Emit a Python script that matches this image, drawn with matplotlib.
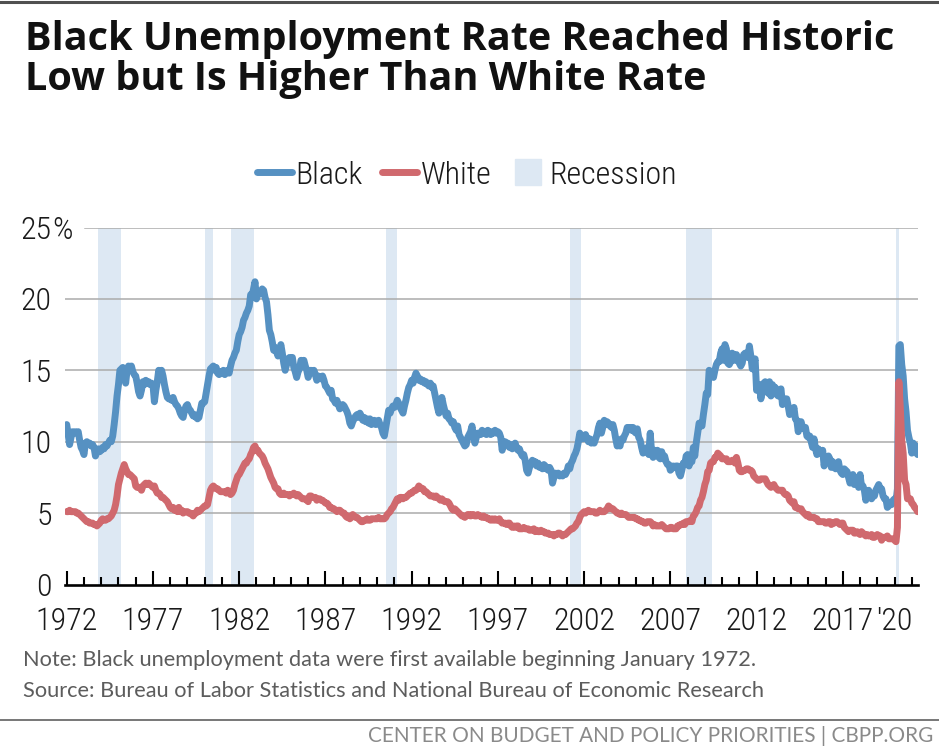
import numpy as np
import matplotlib.pyplot as plt
import matplotlib.font_manager as fm
from matplotlib.lines import Line2D

# Monthly unemployment rates (%), January 1972 - May 2021
black_rate = [
    11.2, 10.5, 9.8, 10.3, 10.7, 10.6, 10.7, 10.6, 10.7, 10.1, 9.6, 9.4,   # 1972
    9.1, 9.9, 10.0, 9.8, 9.9, 9.7, 9.8, 9.6, 9.0, 9.3, 9.5, 9.3,           # 1973
    9.4, 9.6, 9.5, 9.8, 9.7, 9.9, 10.1, 10.0, 10.4, 11.2, 12.1, 13.2,      # 1974
    14.0, 15.0, 15.1, 15.2, 14.9, 14.1, 15.0, 15.3, 15.2, 15.3, 14.9, 14.7,  # 1975
    14.6, 14.1, 13.5, 13.2, 13.6, 14.2, 14.0, 14.3, 14.1, 14.2, 14.0, 14.1,  # 1976
    14.0, 12.8, 13.6, 14.2, 15.0, 14.8, 15.0, 14.6, 14.0, 13.5, 13.1, 13.0,  # 1977
    13.0, 12.9, 13.1, 12.8, 12.6, 12.5, 12.3, 12.0, 11.8, 11.7, 12.2, 12.5,  # 1978
    12.6, 12.3, 12.2, 12.0, 11.8, 11.9, 11.7, 11.6, 11.7, 12.2, 12.7, 12.7,  # 1979
    12.8, 13.4, 14.0, 14.6, 15.1, 15.2, 15.3, 15.0, 15.2, 14.8, 14.7, 14.9,  # 1980
    14.8, 15.0, 14.7, 14.9, 15.0, 14.8, 15.3, 15.7, 15.9, 16.2, 16.4, 17.0,  # 1981
    17.5, 17.7, 18.0, 18.5, 18.7, 19.0, 19.2, 19.5, 20.3, 20.2, 20.7, 21.2,  # 1982
    20.0, 20.3, 20.5, 20.4, 20.7, 20.6, 20.1, 19.8, 18.9, 17.8, 17.5, 17.0,  # 1983
    16.4, 16.6, 16.3, 16.0, 16.4, 16.8, 16.2, 15.5, 15.0, 15.4, 15.8, 15.9,  # 1984
    15.6, 15.9, 15.2, 14.9, 14.5, 14.9, 15.1, 15.7, 15.5, 15.7, 15.3, 15.0,  # 1985
    14.5, 14.8, 15.0, 14.9, 15.0, 14.7, 14.3, 14.6, 14.5, 14.4, 14.6, 14.3,  # 1986
    13.9, 13.8, 13.6, 13.4, 13.6, 13.0, 12.9, 12.7, 12.9, 12.6, 12.3, 12.4,  # 1987
    12.6, 12.5, 12.3, 12.1, 11.8, 11.3, 11.1, 11.4, 11.6, 11.8, 11.9, 11.7,  # 1988
    12.0, 11.8, 11.5, 11.7, 11.4, 11.6, 11.3, 11.6, 11.2, 11.4, 11.5, 11.2,  # 1989
    11.3, 11.5, 11.2, 11.0, 10.6, 10.4, 11.0, 11.6, 12.2, 12.0, 12.3, 12.5,  # 1990
    12.4, 12.6, 12.9, 12.7, 12.4, 12.2, 12.0, 12.5, 12.9, 13.4, 13.8, 14.0,  # 1991
    14.3, 14.1, 14.5, 14.8, 14.6, 14.3, 14.4, 14.2, 14.3, 14.1, 14.2, 14.0,  # 1992
    13.9, 14.1, 13.8, 13.9, 13.4, 12.9, 12.4, 12.0, 12.5, 13.1, 12.6, 12.2,  # 1993
    11.8, 12.0, 11.6, 11.5, 11.3, 11.4, 11.0, 10.8, 11.1, 10.5, 10.3, 10.1,  # 1994
    9.9, 9.7, 9.8, 10.3, 10.5, 10.7, 11.1, 10.4, 9.9, 10.3, 10.6, 10.5,      # 1995
    10.5, 10.8, 10.6, 10.7, 10.5, 10.8, 10.6, 10.5, 10.7, 10.6, 10.8, 10.6,  # 1996
    10.7, 10.6, 10.3, 9.4, 9.9, 10.0, 9.8, 9.9, 9.6, 9.8, 9.5, 9.7,          # 1997
    9.9, 9.6, 9.4, 9.5, 9.2, 9.0, 9.1, 8.7, 8.0, 7.8, 8.2, 8.4,              # 1998
    8.7, 8.5, 8.6, 8.3, 8.5, 8.2, 8.3, 8.1, 8.4, 8.3, 8.1, 8.0,              # 1999
    8.2, 8.0, 7.1, 7.5, 7.8, 7.7, 7.8, 7.6, 7.7, 7.6, 7.8, 7.7,              # 2000
    7.9, 8.3, 8.1, 8.5, 8.7, 9.0, 9.2, 9.5, 10.0, 10.6, 10.4, 10.2,          # 2001
    10.3, 10.5, 10.2, 10.0, 10.2, 9.9, 10.1, 9.9, 10.2, 10.5, 11.0, 11.3,    # 2002
    10.6, 11.0, 11.5, 11.2, 11.4, 11.3, 11.1, 11.0, 11.2, 10.8, 10.2, 9.7,   # 2003
    9.8, 9.7, 10.2, 10.1, 10.4, 10.6, 11.0, 10.9, 11.0, 10.8, 11.0, 10.7,    # 2004
    10.6, 10.9, 10.3, 10.1, 9.6, 9.2, 9.5, 9.4, 9.6, 9.1, 10.6, 9.2,         # 2005
    8.9, 9.4, 9.3, 9.4, 8.9, 8.8, 9.3, 8.8, 9.0, 8.6, 8.4, 8.4,              # 2006
    8.0, 8.1, 8.3, 8.2, 8.3, 8.3, 7.8, 7.6, 8.0, 8.5, 8.4, 9.0,              # 2007
    9.1, 8.3, 8.9, 8.6, 9.6, 9.0, 9.9, 10.6, 11.3, 11.1, 11.1, 11.9,         # 2008
    12.6, 13.4, 13.3, 15.0, 14.9, 14.7, 14.5, 15.0, 15.4, 15.6, 15.6, 16.2,  # 2009
    16.5, 15.7, 16.8, 16.5, 15.5, 15.4, 15.6, 16.2, 16.1, 15.7, 16.1, 15.8,  # 2010
    15.5, 15.3, 15.5, 16.1, 16.2, 16.2, 15.9, 16.7, 16.0, 15.1, 15.5, 15.8,  # 2011
    13.6, 14.0, 14.0, 13.0, 13.6, 14.1, 14.2, 14.0, 13.4, 14.2, 13.2, 14.0,  # 2012
    13.8, 13.8, 13.3, 13.2, 13.5, 13.7, 12.6, 13.0, 13.0, 13.0, 12.5, 11.9,  # 2013
    12.1, 12.0, 12.4, 11.6, 11.5, 10.7, 11.4, 11.4, 11.0, 10.9, 11.0, 10.4,  # 2014
    10.3, 10.4, 10.0, 9.6, 10.2, 9.5, 9.1, 9.5, 9.2, 9.2, 9.4, 8.3,          # 2015
    8.8, 8.8, 9.0, 8.8, 8.2, 8.6, 8.4, 8.1, 8.3, 8.6, 8.0, 7.8,              # 2016
    7.7, 8.1, 8.0, 7.9, 7.5, 7.1, 7.4, 7.7, 7.0, 7.5, 7.3, 6.8,              # 2017
    7.7, 6.9, 6.9, 6.6, 5.9, 6.5, 6.6, 6.3, 6.0, 6.2, 6.2, 6.6,              # 2018
    6.8, 7.0, 6.7, 6.7, 6.2, 6.0, 6.0, 5.4, 5.5, 5.7, 5.6, 5.9,              # 2019
    6.0, 5.8, 6.7, 16.7, 16.8, 15.4, 14.6, 13.0, 12.1, 10.8, 10.3, 9.9,      # 2020
    9.2, 9.9, 9.6, 9.7, 9.1,                                                 # 2021
]

white_rate = [
    5.1, 5.1, 5.2, 5.1, 5.1, 5.1, 5.1, 5.0, 5.0, 4.9, 4.8, 4.7,   # 1972
    4.6, 4.5, 4.4, 4.4, 4.3, 4.3, 4.3, 4.2, 4.2, 4.1, 4.2, 4.3,   # 1973
    4.5, 4.6, 4.5, 4.5, 4.6, 4.6, 4.7, 4.8, 5.0, 5.2, 5.6, 6.2,   # 1974
    7.0, 7.4, 7.8, 8.1, 8.4, 8.1, 7.9, 7.7, 7.7, 7.6, 7.5, 7.4,   # 1975
    6.9, 6.8, 6.8, 6.8, 6.6, 6.9, 7.0, 7.1, 7.0, 7.1, 7.0, 6.9,   # 1976
    6.8, 6.9, 6.6, 6.4, 6.4, 6.3, 6.1, 6.1, 6.0, 5.9, 5.8, 5.6,   # 1977
    5.4, 5.3, 5.4, 5.2, 5.2, 5.1, 5.4, 5.1, 5.2, 5.0, 5.1, 5.1,   # 1978
    5.1, 5.0, 5.0, 4.9, 4.8, 5.0, 5.0, 5.2, 5.1, 5.2, 5.3, 5.4,   # 1979
    5.5, 5.5, 5.6, 6.1, 6.6, 6.8, 6.9, 6.8, 6.7, 6.7, 6.6, 6.5,   # 1980
    6.5, 6.5, 6.5, 6.4, 6.6, 6.5, 6.3, 6.4, 6.6, 7.0, 7.3, 7.6,   # 1981
    7.7, 7.9, 8.1, 8.3, 8.5, 8.5, 8.7, 8.8, 9.1, 9.3, 9.6, 9.7,   # 1982
    9.4, 9.4, 9.2, 9.1, 9.0, 8.8, 8.5, 8.3, 8.1, 7.8, 7.5, 7.3,   # 1983
    7.1, 6.8, 6.7, 6.7, 6.4, 6.3, 6.3, 6.4, 6.3, 6.3, 6.3, 6.2,   # 1984
    6.3, 6.3, 6.4, 6.3, 6.2, 6.3, 6.2, 6.1, 6.0, 6.0, 6.0, 5.9,   # 1985
    5.8, 6.2, 6.2, 6.1, 6.1, 6.1, 5.9, 6.0, 6.0, 5.9, 5.9, 5.8,   # 1986
    5.7, 5.7, 5.6, 5.4, 5.4, 5.3, 5.3, 5.2, 5.1, 5.2, 5.2, 5.1,   # 1987
    5.0, 5.0, 4.8, 4.7, 4.8, 4.6, 4.7, 4.9, 4.8, 4.7, 4.7, 4.6,   # 1988
    4.5, 4.4, 4.4, 4.5, 4.5, 4.6, 4.5, 4.5, 4.6, 4.6, 4.6, 4.6,   # 1989
    4.6, 4.7, 4.6, 4.6, 4.6, 4.6, 4.7, 4.9, 5.0, 5.1, 5.3, 5.4,   # 1990
    5.6, 5.8, 6.0, 5.9, 6.1, 6.1, 6.0, 6.1, 6.1, 6.2, 6.3, 6.4,   # 1991
    6.4, 6.5, 6.6, 6.6, 6.7, 6.9, 6.8, 6.7, 6.7, 6.5, 6.5, 6.4,   # 1992
    6.3, 6.2, 6.2, 6.2, 6.1, 6.2, 6.1, 6.0, 5.9, 6.0, 5.9, 5.8,   # 1993
    5.8, 5.8, 5.7, 5.5, 5.3, 5.2, 5.3, 5.2, 5.1, 5.0, 4.9, 4.8,   # 1994
    4.8, 4.7, 4.8, 4.9, 4.9, 4.8, 4.9, 4.9, 4.8, 4.8, 4.9, 4.8,   # 1995
    4.8, 4.7, 4.8, 4.7, 4.7, 4.6, 4.6, 4.5, 4.6, 4.5, 4.6, 4.5,   # 1996
    4.5, 4.6, 4.4, 4.3, 4.3, 4.3, 4.2, 4.3, 4.3, 4.1, 4.0, 4.1,   # 1997
    4.0, 4.1, 4.1, 3.9, 3.9, 3.9, 4.0, 3.9, 3.9, 3.9, 3.8, 3.8,   # 1998
    3.8, 3.9, 3.7, 3.8, 3.7, 3.7, 3.8, 3.7, 3.7, 3.6, 3.6, 3.6,   # 1999
    3.5, 3.5, 3.5, 3.4, 3.5, 3.5, 3.6, 3.6, 3.5, 3.4, 3.5, 3.5,   # 2000
    3.6, 3.7, 3.8, 3.9, 3.9, 4.0, 4.1, 4.3, 4.4, 4.7, 4.9, 5.0,   # 2001
    5.1, 5.0, 5.1, 5.2, 5.1, 5.1, 5.1, 5.1, 5.0, 5.0, 5.1, 5.2,   # 2002
    5.1, 5.1, 5.1, 5.2, 5.3, 5.5, 5.4, 5.3, 5.3, 5.2, 5.1, 5.0,   # 2003
    5.0, 4.9, 5.0, 4.9, 4.9, 4.9, 4.8, 4.7, 4.7, 4.7, 4.7, 4.7,   # 2004
    4.6, 4.6, 4.5, 4.5, 4.4, 4.4, 4.3, 4.3, 4.4, 4.4, 4.4, 4.3,   # 2005
    4.1, 4.2, 4.1, 4.1, 4.1, 4.1, 4.2, 4.1, 4.0, 3.9, 3.9, 3.9,   # 2006
    4.0, 4.0, 3.9, 3.9, 3.9, 4.1, 4.1, 4.2, 4.2, 4.3, 4.2, 4.4,   # 2007
    4.4, 4.4, 4.5, 4.4, 4.8, 4.9, 5.1, 5.4, 5.5, 5.9, 6.1, 6.5,   # 2008
    7.0, 7.3, 7.9, 8.0, 8.5, 8.6, 8.6, 8.9, 8.9, 9.2, 9.1, 9.0,   # 2009
    8.8, 8.8, 8.8, 8.8, 8.6, 8.6, 8.6, 8.7, 8.7, 8.5, 8.9, 8.5,   # 2010
    8.0, 7.9, 7.9, 8.0, 8.0, 8.1, 8.1, 8.0, 8.0, 7.9, 7.6, 7.5,   # 2011
    7.4, 7.3, 7.3, 7.4, 7.4, 7.4, 7.4, 7.2, 7.0, 6.9, 6.8, 6.9,   # 2012
    7.0, 6.8, 6.7, 6.6, 6.6, 6.6, 6.6, 6.4, 6.3, 6.3, 6.2, 5.9,   # 2013
    5.8, 5.7, 5.8, 5.4, 5.4, 5.3, 5.3, 5.3, 5.1, 5.0, 4.9, 4.8,   # 2014
    4.9, 4.7, 4.7, 4.7, 4.7, 4.6, 4.6, 4.4, 4.4, 4.4, 4.4, 4.4,   # 2015
    4.3, 4.3, 4.4, 4.4, 4.2, 4.3, 4.3, 4.4, 4.4, 4.3, 4.2, 4.3,   # 2016
    4.3, 4.0, 3.9, 3.8, 3.7, 3.8, 3.8, 3.8, 3.6, 3.6, 3.7, 3.6,   # 2017
    3.5, 3.7, 3.6, 3.5, 3.4, 3.5, 3.4, 3.4, 3.5, 3.3, 3.3, 3.4,   # 2018
    3.5, 3.4, 3.4, 3.1, 3.3, 3.3, 3.3, 3.4, 3.2, 3.2, 3.2, 3.2,   # 2019
    3.1, 3.0, 4.0, 14.2, 12.4, 10.1, 9.2, 7.3, 7.0, 6.0, 6.0, 6.0,  # 2020
    5.7, 5.6, 5.4, 5.3, 5.1,                                        # 2021
]

# NBER recessions: (start year, month), (end year, month)
recessions = [((1973, 11), (1975, 3)), ((1980, 1), (1980, 7)), ((1981, 7), (1982, 11)),
              ((1990, 7), (1991, 3)), ((2001, 3), (2001, 11)), ((2007, 12), (2009, 6)),
              ((2020, 2), (2020, 4))]

label_years = [1972, 1977, 1982, 1987, 1992, 1997, 2002, 2007, 2012, 2017, 2020]
label_text = ['1972', '1977', '1982', '1987', '1992', '1997', '2002', '2007', '2012', '2017', "'20"]
y_ticks = [0, 5, 10, 15, 20, 25]

BLUE = '#5691c2'
RED = '#d0696e'
BAND = '#dde8f3'

# pick a narrow font for the axis labels if one is installed
installed = {f.name for f in fm.fontManager.ttflist}
narrow = next((n for n in ['Roboto Condensed', 'Liberation Sans Narrow', 'Open Sans Condensed']
               if n in installed), None)
if narrow:
    tick_font, tick_size = narrow, 23
else:
    tick_font, tick_size = 'Roboto', 19
tick_prop = dict(family=tick_font, size=tick_size, weight='light')

months = np.arange(len(black_rate))
x = 1972 + months / 12

fig = plt.figure(figsize=(9.39, 7.5), dpi=100)
ax = fig.add_axes([65 / 939, 1 - 584.5 / 750, 853 / 939, 357 / 750])

for (y0, m0), (y1, m1) in recessions:
    ax.axvspan(y0 + (m0 - 1) / 12, y1 + (m1 - 1) / 12, color=BAND, lw=0, zorder=0)

for v in y_ticks[1:-1]:
    ax.axhline(v, color='#ababab', lw=1.1, zorder=1)
ax.axhline(25, xmin=20 / 853, color='#ababab', lw=1.1, zorder=1)

ax.plot(x, black_rate, color=BLUE, lw=5, solid_capstyle='round', solid_joinstyle='round', zorder=3)
ax.plot(x, white_rate[:len(x)], color=RED, lw=5, solid_capstyle='round', solid_joinstyle='round', zorder=4)

ax.set_xlim(1971.9, 2021.36)
ax.set_ylim(0, 25)

for side in ['top', 'right', 'left']:
    ax.spines[side].set_visible(False)
ax.spines['bottom'].set_linewidth(1.9)
ax.spines['bottom'].set_color('black')
ax.spines['bottom'].set_zorder(5)

ax.set_xticks(label_years, label_text)
ax.set_xticks(range(1972, 2022), minor=True)
ax.tick_params(axis='x', which='major', direction='in', length=10, width=1.5, pad=16.5,
               labelcolor='#1a1a1a')
ax.tick_params(axis='x', which='minor', direction='in', length=5.5, width=1.5)
last = ax.xaxis.get_major_ticks()[-1]
last.tick1line.set_markersize(5.5)
for lab in ax.get_xticklabels():
    lab.set_fontproperties(fm.FontProperties(**tick_prop))

ax.set_yticks(y_ticks, [str(v) for v in y_ticks])
ax.tick_params(axis='y', length=0, pad=9.5, labelcolor='#1a1a1a')
for lab in ax.get_yticklabels():
    lab.set_fontproperties(fm.FontProperties(**tick_prop))
ax.text(-13 / 853, 25, '%', transform=ax.get_yaxis_transform(), ha='left', va='center_baseline',
        color='#1a1a1a', fontproperties=fm.FontProperties(**tick_prop))

# legend
handles = [Line2D([], [], color=BLUE, lw=5, solid_capstyle='round'),
           Line2D([], [], color=RED, lw=5, solid_capstyle='round'),
           Line2D([], [], color=BAND, marker='s', ms=19, ls='none')]
fig.legend(handles, ['Black', 'White', 'Recession'], loc='center', ncol=3,
           bbox_to_anchor=(467 / 939, 1 - 175 / 750), frameon=False, prop=tick_prop,
           handlelength=1.1, handletextpad=0.12, columnspacing=0.6, labelcolor='#1a1a1a')


def fit_width(txt, width_px):
    w = txt.get_window_extent(fig.canvas.get_renderer()).width
    txt.set_fontsize(txt.get_fontsize() * width_px / w)


# title
t1 = fig.text(25 / 939, 1 - 50 / 750, 'Black Unemployment Rate Reached Historic', family='Open Sans',
              fontweight='bold', fontsize=22, color='#111111', va='baseline')
fit_width(t1, 868)
fig.text(25 / 939, 1 - 90 / 750, 'Low but Is Higher Than White Rate', family='Open Sans',
         fontweight='bold', fontsize=t1.get_fontsize(), color='#111111', va='baseline')

# notes
src = fig.text(23 / 939, 1 - 697 / 750,
               'Source: Bureau of Labor Statistics and National Bureau of Economic Research',
               family='Lato', fontsize=13, color='#5c5c5c', va='baseline')
fit_width(src, 740)
fig.text(23 / 939, 1 - 666 / 750,
         'Note: Black unemployment data were first available beginning January 1972.',
         family='Lato', fontsize=src.get_fontsize(), color='#5c5c5c', va='baseline')

foot = fig.text(933 / 939, 1 - 741.5 / 750, 'CENTER ON BUDGET AND POLICY PRIORITIES | CBPP.ORG',
                family='Lato', fontsize=13, color='#8a8a8a', ha='right', va='baseline')
fit_width(foot, 562)

fig.add_artist(Line2D([0, 1], [1 - 1.5 / 750, 1 - 1.5 / 750], color='#505050', lw=2.2,
                      transform=fig.transFigure))
fig.add_artist(Line2D([0, 1], [1 - 720 / 750, 1 - 720 / 750], color='#777777', lw=1.4,
                      transform=fig.transFigure))

fig.savefig('out.png', dpi=100)
